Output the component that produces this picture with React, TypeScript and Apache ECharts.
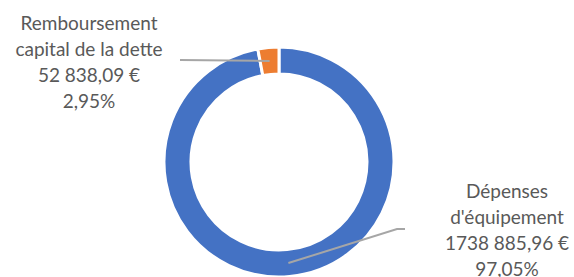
import React, { useEffect, useRef } from "react";
import * as echarts from "echarts";

const categories = ["Dépenses\nd'équipement", "Remboursement\ncapital de la dette"];
const values = [1738885.96, 52838.09];
const valueLabels = ["1738 885,96 €", "52 838,09 €"];
const colors = ["#4472C4", "#ED7D31"];

export default function App() {
  const ref = useRef<HTMLDivElement>(null);
  useEffect(() => {
    if (!ref.current) return;
    const chart = echarts.init(ref.current, undefined, { renderer: "svg" });
    const cx = 279;
    const cy = 162;
    const rIn = 88;
    const rOut = 115;
    const rMid = (rIn + rOut) / 2;
    const total = values.reduce((a, b) => a + b, 0);
    const mids: number[] = [];
    let cum = 0;
    for (const v of values) {
      mids.push(((cum + v / 2) / total) * 2 * Math.PI);
      cum += v;
    }
    const anchor = (i: number) => [cx + rMid * Math.sin(mids[i]), cy - rMid * Math.cos(mids[i])];
    const labelPos = [
      { x: 507, y: 177, line: [[397, 229], [405, 229]] },
      { x: 89, y: 9, line: [[180, 60], [180, 60]] },
    ];
    const base = {
      type: "pie",
      center: [cx, cy],
      radius: [rIn, rOut],
      startAngle: 90,
      clockwise: true,
      avoidLabelOverlap: false,
    };
    chart.setOption({
      animation: false,
      series: [
        {
          ...base,
          z: 2,
          silent: true,
          itemStyle: { borderColor: "#ffffff", borderWidth: 3 },
          label: { show: false },
          labelLine: { show: false },
          data: categories.map((c, i) => ({ name: c, value: values[i], itemStyle: { color: colors[i] } })),
        },
        {
          ...base,
          z: 5,
          silent: true,
          itemStyle: { color: "rgba(0,0,0,0)", borderWidth: 0 },
          label: {
            show: true,
            position: "outside",
            fontFamily: "Lato",
            fontSize: 19,
            lineHeight: 26,
            color: "#595959",
            align: "center",
            formatter: (p: any) =>
              `${p.name}\n${valueLabels[p.dataIndex]}\n${p.percent.toFixed(2).replace(".", ",")}%`,
          },
          labelLine: { show: true, lineStyle: { color: "#A6A6A6", width: 2 } },
          labelLayout: (p: any) => {
            const lp = labelPos[p.dataIndex];
            return {
              x: lp.x,
              y: lp.y,
              align: "center",
              verticalAlign: "top",
              labelLinePoints: [anchor(p.dataIndex), lp.line[0], lp.line[1]],
            };
          },
          data: categories.map((c, i) => ({ name: c, value: values[i] })),
        },
      ],
    });
    return () => chart.dispose();
  }, []);
  return <div ref={ref} style={{ position: "fixed", left: 0, top: 0, width: 574, height: 277, background: "#fff" }} />;
}
